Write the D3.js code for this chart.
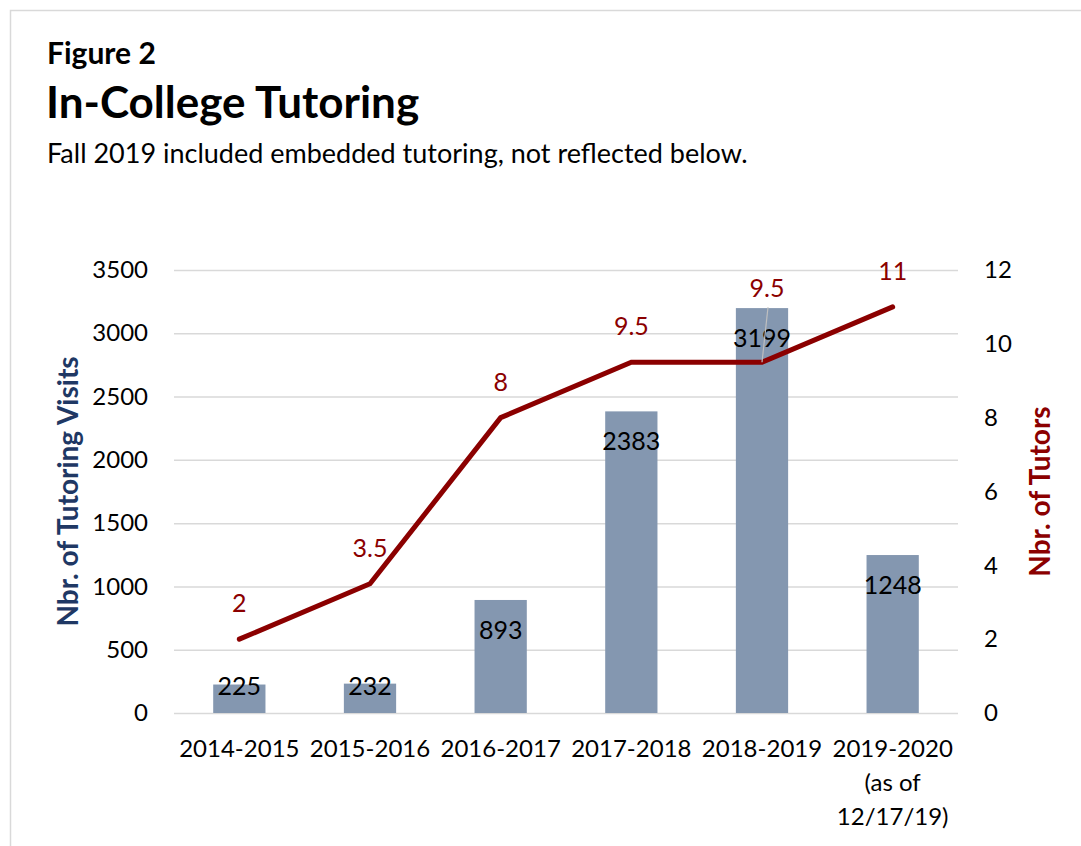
<!DOCTYPE html>
<html>
<head>
<meta charset="utf-8">
<script src="https://cdn.jsdelivr.net/npm/d3@7"></script>
<style>
  html, body { margin: 0; padding: 0; background: #ffffff; }
  svg { display: block; font-family: Lato, "Open Sans", sans-serif; }
</style>
</head>
<body>
<svg id="chart" width="1081" height="846"></svg>
<script>
// Academic years on the category axis ("\n" breaks a label onto several lines)
const categories = ["2014-2015", "2015-2016", "2016-2017", "2017-2018", "2018-2019", "2019-2020\n(as of\n12/17/19)"];
// Tutoring visits per year (bars, left axis)
const visits = [225, 232, 893, 2383, 3199, 1248];
// Number of tutors per year (line, right axis)
const tutors = [2, 3.5, 8, 9.5, 9.5, 11];
// Axis tick values
const visitTicks = [0, 500, 1000, 1500, 2000, 2500, 3000, 3500];
const tutorTicks = [0, 2, 4, 6, 8, 10, 12];

const svg = d3.select("#chart");
const W = 1081, H = 846;
const plot = { left: 174, right: 958, top: 270, bottom: 713 };

const barColor = "#8497b0";
const lineColor = "#8b0000";
const gridColor = "#d9d9d9";
const textColor = "#000000";

// Frame
svg.append("rect")
  .attr("x", 10.5).attr("y", 10.5)
  .attr("width", W + 20).attr("height", H + 20)
  .attr("fill", "none").attr("stroke", gridColor).attr("stroke-width", 1.5);

// Headings
svg.append("text").attr("x", 47).attr("y", 64)
  .attr("font-size", 30).attr("font-weight", 700).attr("fill", textColor)
  .text("Figure 2");
svg.append("text").attr("x", 46).attr("y", 118)
  .attr("font-size", 44).attr("font-weight", 700).attr("fill", textColor)
  .text("In-College Tutoring");
svg.append("text").attr("x", 47).attr("y", 163)
  .attr("font-size", 27).attr("fill", textColor)
  .text("Fall 2019 included embedded tutoring, not reflected below.");

// Scales
const x = d3.scaleBand()
  .domain(categories)
  .range([plot.left, plot.right])
  .paddingInner(0.6)
  .paddingOuter(0.3);
const yL = d3.scaleLinear().domain([0, 3500]).range([plot.bottom, plot.top]);
const yR = d3.scaleLinear().domain([0, 12]).range([plot.bottom, plot.top]);
const cx = c => x(c) + x.bandwidth() / 2;

// Left axis with gridlines
const gL = svg.append("g")
  .attr("transform", `translate(${plot.left},0)`)
  .call(d3.axisLeft(yL).tickValues(visitTicks)
    .tickSize(-(plot.right - plot.left)).tickPadding(26).tickFormat(d3.format("d")));
gL.select(".domain").remove();
gL.selectAll(".tick line").attr("stroke", gridColor).attr("stroke-width", 1.5);
gL.selectAll(".tick text").attr("font-size", 24).attr("fill", textColor)
  .attr("font-family", "Lato, sans-serif");

// Right axis (labels only)
const gR = svg.append("g")
  .attr("transform", `translate(${plot.right},0)`)
  .call(d3.axisRight(yR).tickValues(tutorTicks).tickSize(0).tickPadding(26).tickFormat(d3.format("d")));
gR.select(".domain").remove();
gR.selectAll(".tick text").attr("font-size", 24).attr("fill", textColor)
  .attr("font-family", "Lato, sans-serif");

// Category axis
const gB = svg.append("g")
  .attr("transform", `translate(0,${plot.bottom})`)
  .call(d3.axisBottom(x).tickSize(0).tickFormat(""));
gB.select(".domain").remove();
gB.selectAll(".tick").each(function (d) {
  const lines = d.split("\n");
  const t = d3.select(this).append("text")
    .attr("text-anchor", "middle")
    .attr("font-size", 24).attr("fill", textColor)
    .attr("font-family", "Lato, sans-serif");
  lines.forEach((ln, i) => {
    t.append("tspan").attr("x", 0).attr("y", 44 + i * 34).text(ln);
  });
});

// Bars
svg.append("g").selectAll("rect")
  .data(categories)
  .join("rect")
  .attr("x", d => x(d))
  .attr("width", x.bandwidth())
  .attr("y", (d, i) => yL(visits[i]))
  .attr("height", (d, i) => yL(0) - yL(visits[i]))
  .attr("fill", barColor);

// Bar value labels (inside end)
svg.append("g").selectAll("text")
  .data(categories)
  .join("text")
  .attr("x", d => cx(d))
  .attr("y", (d, i) => Math.min(yL(visits[i]) + 39, yL(0) - 18))
  .attr("text-anchor", "middle")
  .attr("font-size", 25).attr("fill", textColor)
  .text((d, i) => visits[i]);

// Tutors line
const line = d3.line()
  .x((d, i) => cx(categories[i]))
  .y(d => yR(d));
svg.append("path")
  .datum(tutors)
  .attr("d", line)
  .attr("fill", "none")
  .attr("stroke", lineColor)
  .attr("stroke-width", 5)
  .attr("stroke-linejoin", "miter")
  .attr("stroke-linecap", "round");

// Tutor labels; the 2018-2019 label is lifted clear of its bar label with a leader line
const lifted = 4;
const liftBy = 38;
const lblY = (d, i) => yR(d) - 27 - (i === lifted ? liftBy : 0);
svg.append("line")
  .attr("x1", cx(categories[lifted])).attr("y1", yR(tutors[lifted]))
  .attr("x2", cx(categories[lifted]) + 6).attr("y2", yR(tutors[lifted]) - 55)
  .attr("stroke", "#bfbfbf").attr("stroke-width", 1.2);
svg.append("g").selectAll("text")
  .data(tutors)
  .join("text")
  .attr("x", (d, i) => cx(categories[i]) + (i === lifted ? 5 : 0))
  .attr("y", lblY)
  .attr("text-anchor", "middle")
  .attr("font-size", 25).attr("fill", lineColor)
  .text(d => d);

// Axis titles
svg.append("text")
  .attr("transform", `translate(78,${(plot.top + plot.bottom) / 2}) rotate(-90)`)
  .attr("text-anchor", "middle")
  .attr("font-size", 28).attr("font-weight", 700).attr("fill", "#1f3864")
  .text("Nbr. of Tutoring Visits");
svg.append("text")
  .attr("transform", `translate(1050,${(plot.top + plot.bottom) / 2}) rotate(-90)`)
  .attr("text-anchor", "middle")
  .attr("font-size", 28).attr("font-weight", 700).attr("fill", "#8b0000")
  .text("Nbr. of Tutors");
</script>
</body>
</html>
